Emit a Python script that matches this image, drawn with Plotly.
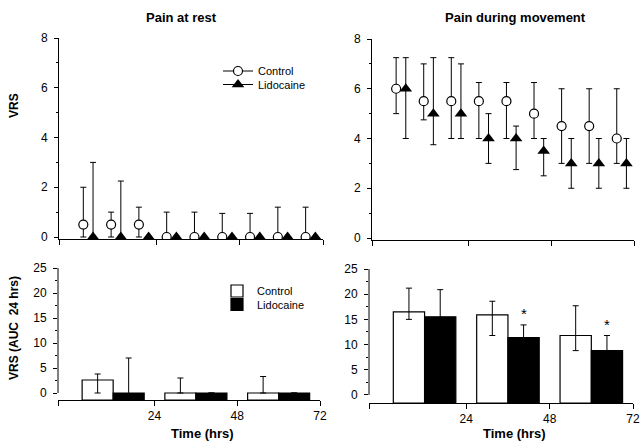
import plotly.graph_objects as go

# ---------------- data ----------------
times = [4, 12, 20, 28, 36, 44, 52, 60, 68]

ctrl_rest = [0.5, 0.5, 0.5, 0, 0, 0, 0, 0, 0]
ctrl_rest_hi = [2.0, 1.0, 1.2, 1.0, 1.0, 0.95, 0.95, 1.2, 1.2]
ctrl_rest_lo = [0, 0, 0, 0, 0, 0, 0, 0, 0]
lido_rest = [0, 0, 0, 0, 0, 0, 0, 0, 0]
lido_rest_hi = [3.0, 2.25, 0, 0, 0, 0, 0, 0, 0]
lido_rest_lo = [0, 0, 0, 0, 0, 0, 0, 0, 0]

ctrl_move = [6.0, 5.5, 5.5, 5.5, 5.5, 5.0, 4.5, 4.5, 4.0]
ctrl_move_hi = [7.25, 7.0, 7.25, 6.25, 6.25, 6.25, 6.0, 6.0, 6.0]
ctrl_move_lo = [5.0, 4.75, 4.0, 4.0, 4.0, 4.0, 3.0, 3.0, 3.0]
lido_move = [6.0, 5.0, 5.0, 4.0, 4.0, 3.5, 3.0, 3.0, 3.0]
lido_move_hi = [7.25, 7.25, 7.0, 5.0, 4.5, 4.0, 4.0, 4.0, 4.0]
lido_move_lo = [4.0, 3.75, 4.0, 3.0, 2.75, 2.5, 2.0, 2.0, 2.0]

auc_periods = [12, 36, 60]
auc_ctrl_rest = [2.6, 0, 0]
auc_ctrl_rest_err = [1.2, 3.0, 3.3]
auc_ctrl_rest_errlo = [2.6, 0, 0]
auc_lido_rest = [0, 0, 0]
auc_lido_rest_err = [7.0, 0, 0]

auc_ctrl_move = [16.5, 15.9, 11.8]
auc_ctrl_move_err = [4.7, 2.7, 5.9]
auc_ctrl_move_errlo = [1.5, 4.1, 3.0]
auc_lido_move = [15.5, 11.4, 8.8]
auc_lido_move_err = [5.4, 2.5, 3.0]
signif_move = [False, True, True]

x_ticks = [24, 48, 72]
x_tick_labels = ["24", "48", "72"]

# ---------------- style ----------------
FONT = "Liberation Sans, Arial, sans-serif"
W, H = 642, 447
CTRL_OFF, LIDO_OFF = -1.0, 1.8
XR = [-4, 72]
TOP_YR = [-0.08, 8]
BL_YR = [-1.4, 25]
BR_YR = [-1.6, 25]
BARW = 9.0


def px_x(a, b):
    return [a / W, b / W]


def px_y(top, bottom):
    return [1 - bottom / H, 1 - top / H]


def err(v, hi, lo):
    return [h - x for x, h in zip(v, hi)], [x - l for x, l in zip(v, lo)]


fig = go.Figure()

CTRL_MARK = dict(symbol="circle", size=9, color="white", line=dict(color="black", width=1.2))
LIDO_MARK = dict(symbol="triangle-up", size=11, color="black", line=dict(width=0))


def scatter_pair(xa, ya, cv, chi, clo, lv, lhi, llo):
    p, m = err(cv, chi, clo)
    fig.add_trace(go.Scatter(
        x=[t + CTRL_OFF for t in times], y=cv, mode="markers", xaxis=xa, yaxis=ya,
        marker=CTRL_MARK,
        error_y=dict(type="data", array=p, arrayminus=m, color="black", thickness=1, width=3),
        showlegend=False))
    p, m = err(lv, lhi, llo)
    fig.add_trace(go.Scatter(
        x=[t + LIDO_OFF for t in times], y=lv, mode="markers", xaxis=xa, yaxis=ya,
        marker=LIDO_MARK,
        error_y=dict(type="data", array=p, arrayminus=m, color="black", thickness=1, width=3),
        showlegend=False))


scatter_pair("x", "y", ctrl_rest, ctrl_rest_hi, ctrl_rest_lo, lido_rest, lido_rest_hi, lido_rest_lo)
scatter_pair("x2", "y2", ctrl_move, ctrl_move_hi, ctrl_move_lo, lido_move, lido_move_hi, lido_move_lo)

# legend-only entries for top legend (line + marker), one legend per row
fig.add_trace(go.Scatter(x=[None], y=[None], mode="lines+markers", name="Control",
                         line=dict(color="black", width=1), marker=CTRL_MARK,
                         legend="legend", xaxis="x", yaxis="y"))
fig.add_trace(go.Scatter(x=[None], y=[None], mode="lines+markers", name="Lidocaine",
                         line=dict(color="black", width=1), marker=LIDO_MARK,
                         legend="legend2", xaxis="x", yaxis="y"))


def bars(xa, ya, base, cv, cerr, cerrlo, lv, lerr, legend_on):
    fig.add_trace(go.Bar(
        x=auc_periods, y=[v - base for v in cv], base=base, xaxis=xa, yaxis=ya,
        name="Control", legend="legend3", showlegend=legend_on,
        marker=dict(color="white", line=dict(color="black", width=1.2)),
        error_y=dict(type="data", array=cerr, arrayminus=cerrlo, color="black", thickness=1, width=3)))
    fig.add_trace(go.Bar(
        x=auc_periods, y=[v - base for v in lv], base=base, xaxis=xa, yaxis=ya,
        name="Lidocaine", legend="legend4", showlegend=legend_on,
        marker=dict(color="black", line=dict(color="black", width=1.2)),
        error_y=dict(type="data", array=lerr, arrayminus=lerr, color="black", thickness=1, width=3)))


bars("x3", "y3", BL_YR[0], auc_ctrl_rest, auc_ctrl_rest_err, auc_ctrl_rest_errlo,
     auc_lido_rest, auc_lido_rest_err, True)
bars("x4", "y4", BR_YR[0], auc_ctrl_move, auc_ctrl_move_err, auc_ctrl_move_errlo,
     auc_lido_move, auc_lido_move_err, False)

annotations = []
for per, v, e, s in zip(auc_periods, auc_lido_move, auc_lido_move_err, signif_move):
    if s:
        annotations.append(dict(x=per + BARW / 2, y=v + e, xref="x4", yref="y4", text="*",
                                showarrow=False, yanchor="bottom", yshift=1,
                                font=dict(size=15, family=FONT, color="black")))


def txt(x, y, s, size=12, angle=0, bold=True):
    annotations.append(dict(x=x / W, y=1 - y / H, xref="paper", yref="paper",
                            text=f"<b>{s}</b>" if bold else s, showarrow=False,
                            textangle=angle, xanchor="center", yanchor="middle",
                            font=dict(size=size, family=FONT, color="black")))


txt(182, 17, "Pain at rest", 13)
txt(515, 18, "Pain during movement", 13)
txt(14, 106, "VRS", 12, -90)
txt(14, 328, "VRS (AUC  24 hrs)", 12, -90)
txt(202, 433, "Time (hrs)", 13)
txt(514, 433, "Time (hrs)", 13)

tickfont = dict(size=12, family=FONT, color="black")


def xaxis(dom, anchor, labels):
    return dict(domain=dom, anchor=anchor, range=XR, showline=True, linecolor="black", linewidth=1,
                ticks="outside", ticklen=5, tickcolor="black",
                tickvals=[XR[0]] + x_ticks,
                ticktext=[""] + (x_tick_labels if labels else ["", "", ""]),
                showgrid=False, zeroline=False, tickfont=tickfont, automargin=False)


def yaxis(dom, anchor, rng, dtick, minor, showline=True):
    return dict(domain=dom, anchor=anchor, range=rng, showline=showline, linecolor="black", linewidth=1,
                ticks="outside", ticklen=4, tickcolor="black", tick0=0, dtick=dtick,
                minor=dict(ticks="outside", ticklen=2, dtick=minor, tick0=0, tickcolor="black"),
                showgrid=False, zeroline=False, tickfont=tickfont, ticklabelstandoff=4,
                automargin=False)


shapes = []
for xa, ya in [("x3", "y3"), ("x4", "y4")]:
    shapes.append(dict(type="line", xref=f"{xa} domain", yref=ya, x0=0, x1=0, y0=0, y1=25,
                       line=dict(color="black", width=1)))


def leg(x, y):
    return dict(x=x / W, y=1 - y / H, xanchor="left", yanchor="middle", bgcolor="rgba(0,0,0,0)",
                font=dict(size=11, family=FONT, color="black"), itemwidth=30,
                borderwidth=0)


fig.update_layout(
    width=W, height=H, margin=dict(l=0, r=0, t=0, b=0, autoexpand=False),
    paper_bgcolor="white", plot_bgcolor="white",
    font=dict(family=FONT, color="black", size=12),
    barmode="group", bargap=0.25, bargroupgap=0,
    xaxis=xaxis(px_x(59, 323), "y", False),
    yaxis=yaxis(px_y(38, 239), "x", TOP_YR, 2, 1),
    xaxis2=xaxis(px_x(372, 634), "y2", False),
    yaxis2=yaxis(px_y(39, 240), "x2", TOP_YR, 2, 1),
    xaxis3=xaxis(px_x(58, 320), "y3", True),
    yaxis3=yaxis(px_y(268, 400), "x3", BL_YR, 5, 2.5, showline=False),
    xaxis4=xaxis(px_x(369, 633), "y4", True),
    yaxis4=yaxis(px_y(269, 403), "x4", BR_YR, 5, 2.5, showline=False),
    legend=leg(218, 71),
    legend2=leg(218, 84.5),
    legend3=leg(217, 291),
    legend4=leg(217, 304.5),
    annotations=annotations, shapes=shapes, showlegend=True,
)

fig.write_html("out.html", post_script="document.body.style.margin='0';",
               config={"displayModeBar": False})
